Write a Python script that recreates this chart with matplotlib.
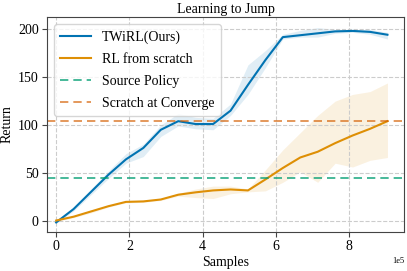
import numpy as np
import matplotlib
matplotlib.use("Agg")
import matplotlib.pyplot as plt

plt.rcParams['font.family'] = ['Liberation Serif', 'DejaVu Serif']

# --- data ---
samples = np.arange(20) * 0.476e5

twirl_mean = [-2, 12, 30, 48, 64, 76, 95, 104, 101, 101,
              115, 142, 168, 192, 194, 196, 198, 198.5, 197.5, 194.5]
twirl_low = [-3, 10, 27, 44, 60, 67, 88, 99, 96, 95,
             110, 132, 160, 190, 192, 192, 196, 197, 195, 190]
twirl_high = [-1, 14, 33, 52, 70, 80, 100, 112, 108, 107,
              122, 163, 178, 195, 199, 202, 200, 200, 200, 197]

scratch_mean = [0, 4, 9.5, 15, 19.5, 20, 22, 27, 29.5, 31.5,
                32.5, 31.5, 43, 55, 66, 72, 81, 89, 96, 104]
scratch_low = [-1, 3, 8, 14, 18.5, 19, 21, 25.5, 24, 23,
               28, 30, 31, 40, 51, 40, 60, 56, 63, 66]
scratch_high = [1, 5, 11, 16, 20.5, 21, 23, 28.5, 33, 36,
                36, 33, 53, 74, 92, 110, 125, 132, 135, 144]

source_policy = 44.5
scratch_converge = 104

# --- plot ---
fig, ax = plt.subplots(figsize=(4.07, 2.71), dpi=100)

c_blue = '#0173b2'
c_orange = '#de8f05'

ax.plot(samples, twirl_mean, color=c_blue, lw=1.5, label='TWiRL(Ours)')
ax.fill_between(samples, twirl_low, twirl_high, color=c_blue, alpha=0.12, lw=0)
ax.plot(samples, scratch_mean, color=c_orange, lw=1.5, label='RL from scratch')
ax.fill_between(samples, scratch_low, scratch_high, color=c_orange, alpha=0.12, lw=0)

ax.axhline(source_policy, color='#029e73', ls=(0, (5, 3)), lw=1.2, alpha=0.85,
           label='Source Policy')
ax.axhline(scratch_converge, color='#d55e00', ls=(0, (5, 3)), lw=1.2, alpha=0.75,
           label='Scratch at Converge')

ax.set_xlim(-0.25e5, 9.5e5)
ax.set_ylim(-12, 213)
ax.set_yticks([0, 50, 100, 150, 200])
ax.ticklabel_format(axis='x', style='sci', scilimits=(0, 0))
ax.xaxis.get_offset_text().set_fontsize(6)

for sp in ax.spines.values():
    sp.set_color('#444444')
ax.grid(True, ls='--', color='#cccccc', lw=0.8)
ax.tick_params(labelsize=10, length=3.5, pad=2.5, color='#444444')
ax.set_xlabel('Samples', fontsize=10, labelpad=2)
ax.set_ylabel('Return', fontsize=10, labelpad=3)
ax.set_title('Learning to Jump', fontsize=10, pad=3)
ax.legend(loc='upper left', fontsize=10, handlelength=2.2, borderpad=0.45,
          labelspacing=0.65, handletextpad=0.8, framealpha=0.8)

fig.subplots_adjust(left=0.1155, right=0.993, top=0.937, bottom=0.144)
fig.savefig('out.png', dpi=100)
